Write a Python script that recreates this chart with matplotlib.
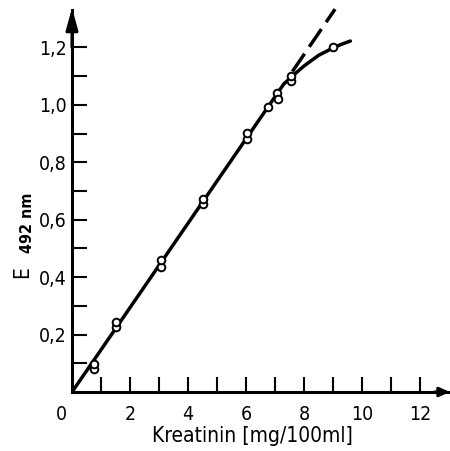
import matplotlib
matplotlib.use("Agg")
import matplotlib.pyplot as plt

# measured points (Kreatinin mg/100ml, E492nm)
conc = [0.76, 0.76, 1.52, 1.52, 3.07, 3.07, 4.53, 4.53, 6.05, 6.05, 6.77, 7.06, 7.11, 7.56, 7.56, 8.99]
ext = [0.079, 0.098, 0.225, 0.245, 0.434, 0.460, 0.654, 0.671, 0.880, 0.901, 0.993, 1.042, 1.019, 1.083, 1.100, 1.200]

# fitted curve
curve_x = [0, 7.3, 7.6, 8.0, 8.5, 9.0, 9.3, 9.6]
curve_y = [0, 1.072, 1.100, 1.135, 1.172, 1.198, 1.211, 1.222]

# dashed linear extension
dash_x = [7.6, 9.07]
dash_y = [1.116, 1.333]

x_ticks = list(range(1, 13))
x_labels = ['', '2', '', '4', '', '6', '', '8', '', '10', '', '12']
y_ticks = [0.1, 0.2, 0.3, 0.4, 0.5, 0.6, 0.7, 0.8, 0.9, 1.0, 1.1, 1.2]
y_labels = ['', '0,2', '', '0,4', '', '0,6', '', '0,8', '', '1,0', '', '1,2']

plt.rcParams['font.family'] = ['DejaVu Sans']
FS = 14
fkw = dict(fontsize=FS, fontstretch='condensed')

fig = plt.figure(figsize=(4.5, 4.51), dpi=100)
ax = fig.add_axes([72/450, 59/451, 377/450, 382/451])
ax.set_xlim(0, 13.0)
ax.set_ylim(0, 1.33)

for s in ['top', 'right']:
    ax.spines[s].set_visible(False)
for s in ['left', 'bottom']:
    ax.spines[s].set_linewidth(2.2)

ax.plot(curve_x, curve_y, color='k', lw=2.5, solid_capstyle='round', zorder=3)
ax.plot(dash_x, dash_y, color='k', lw=2.5, dashes=(6.2, 2.4), clip_on=False, zorder=3)
ax.plot(conc, ext, linestyle='none', marker='o', ms=5.5, mfc='white', mec='k', mew=1.4, zorder=4)

ax.set_xticks(x_ticks)
ax.set_xticklabels(x_labels, **fkw)
ax.set_yticks(y_ticks)
ax.set_yticklabels(y_labels, **fkw)
ax.tick_params(axis='both', direction='in', length=11, width=1.5, color='k')
ax.tick_params(axis='x', pad=9)
ax.tick_params(axis='y', pad=4)

ax.text(-0.35, -0.045, '0', ha='center', va='top', transform=ax.transData, **fkw)

y_arrow = dict(arrowstyle='-|>,head_length=1.3,head_width=0.36', color='k', lw=2.2, shrinkA=0, shrinkB=0)
x_arrow = dict(arrowstyle='-|>,head_length=0.6,head_width=0.27', color='k', lw=2.2, shrinkA=0, shrinkB=0)
ax.annotate('', xy=(0, 1.337), xytext=(0, 1.2), arrowprops=y_arrow, annotation_clip=False)
ax.annotate('', xy=(13.03, 0), xytext=(12.5, 0), arrowprops=x_arrow, annotation_clip=False)

fig.text(252/450, 1 - 436/451, 'Kreatinin [mg/100ml]', ha='center', va='center', fontsize=15, fontstretch='condensed')
fig.text(22/450, 1 - 272/451, 'E', rotation=90, ha='center', va='center', fontsize=15, fontstretch='condensed')
fig.text(27/450, 1 - 223/451, '492 nm', rotation=90, ha='center', va='center', fontsize=11.5, fontstretch='condensed', fontweight='bold')

fig.savefig('out.png', dpi=100)
